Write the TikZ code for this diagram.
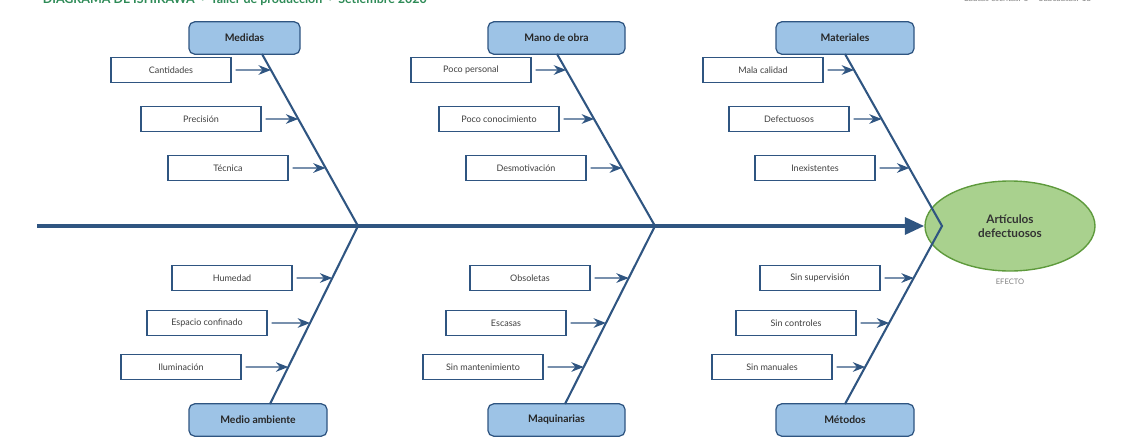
\documentclass[tikz,border=0pt]{standalone}
\usepackage{fontspec}
\setmainfont{Lato}
\usetikzlibrary{arrows.meta,shapes.geometric}
\definecolor{bone}{HTML}{2F5581}
\definecolor{catfill}{HTML}{9DC3E6}
\definecolor{effill}{HTML}{A9D18E}
\definecolor{efdraw}{HTML}{5E9A3C}
\definecolor{ttl}{HTML}{2E8B57}
\begin{document}
\begin{tikzpicture}[x=0.0254cm,y=-0.0254cm,
 cat/.style={draw=bone,fill=catfill,rounded corners=4pt,line width=0.9pt,minimum width=#1*0.0254cm,minimum height=0.82cm,font=\bfseries\fontsize{7.5}{9}\selectfont,text=black!85},
 sub/.style={draw=bone,fill=white,line width=0.8pt,minimum width=3.05cm,minimum height=0.63cm,font=\fontsize{6.5}{8}\selectfont,text=black!75},
 bonel/.style={draw=bone,line width=1.5pt},
 arr/.style={draw=bone,line width=0.9pt,-{Stealth[length=9pt,width=7pt]}}]
\useasboundingbox (0,0) rectangle (1140,445);
\node[font=\bfseries\fontsize{9}{11}\selectfont,text=ttl,anchor=west] (title) at (38,-0.5) {DIAGRAMA DE ISHIKAWA\enspace·\enspace Taller de producción\enspace·\enspace Setiembre 2020};
\node[font=\fontsize{6}{7}\selectfont,text=black!50,anchor=east] (stats) at (1096,-2) {Causas escritas: 6 \quad Subcausas: 18};
% effect
\node[ellipse,draw=efdraw,fill=effill,line width=1pt,minimum width=170*0.0254cm,minimum height=90*0.0254cm,align=center,font=\bfseries\fontsize{8.5}{10}\selectfont,text=black!80] (eff) at (1010,226) {Artículos\\defectuosos};
\node[font=\fontsize{5.5}{7}\selectfont,text=black!50] (efl) at (1010,282) {EFECTO};
\coordinate (s0) at (37,226);
\draw[bone,line width=3pt,-{Triangle[length=14pt,width=12pt]}] (s0) -- (eff.west);
% categories
\node[cat=111] (k1) at (244.5,38) {Medidas};
\node[cat=137] (k2) at (556.5,38) {Mano de obra};
\node[cat=138] (k3) at (845,38) {Materiales};
\node[cat=138] (k4) at (258,420) {Medio ambiente};
\node[cat=137] (k5) at (556.5,420) {Maquinarias};
\node[cat=138] (k6) at (845,420) {Métodos};
\coordinate (j1) at (358,226);
\coordinate (j2) at (655,226);
\coordinate (j3) at (942,226);
\coordinate (t1) at (262,54); \coordinate (t2) at (557,54); \coordinate (t3) at (845,54);
\coordinate (b1) at (270,404); \coordinate (b2) at (565,404); \coordinate (b3) at (845,404);
\foreach \i in {1,2,3}{\draw[bonel] (t\i) -- (j\i) -- (b\i);}
% sub causes
\node[sub] (a1) at (171,70) {Cantidades};
\node[sub] (a2) at (201,119) {Precisión};
\node[sub] (a3) at (228,168) {Técnica};
\node[sub] (m1) at (471,70) {Poco personal};
\node[sub] (m2) at (499,119) {Poco conocimiento};
\node[sub] (m3) at (526,168) {Desmotivación};
\node[sub] (r1) at (763,70) {Mala calidad};
\node[sub] (r2) at (789,119) {Defectuosos};
\node[sub] (r3) at (815,168) {Inexistentes};
\node[sub] (e1) at (232,278) {Humedad};
\node[sub] (e2) at (207,323) {Espacio confinado};
\node[sub] (e3) at (181,367) {Iluminación};
\node[sub] (q1) at (530,278) {Obsoletas};
\node[sub] (q2) at (506,323) {Escasas};
\node[sub] (q3) at (483,367) {Sin mantenimiento};
\node[sub] (d1) at (820,278) {Sin supervisión};
\node[sub] (d2) at (796,323) {Sin controles};
\node[sub] (d3) at (772,367) {Sin manuales};
\foreach \n/\t/\j in {a/t1/j1,m/t2/j2,r/t3/j3,e/b1/j1,q/b2/j2,d/b3/j3}{
 \foreach \k in {1,2,3}{
  \draw[arr] ([xshift=4*0.0254cm]\n\k.east) -- (intersection cs:first line={(\t)--(\j)},second line={(\n\k.west)--(\n\k.east)});}}
\end{tikzpicture}
\end{document}
